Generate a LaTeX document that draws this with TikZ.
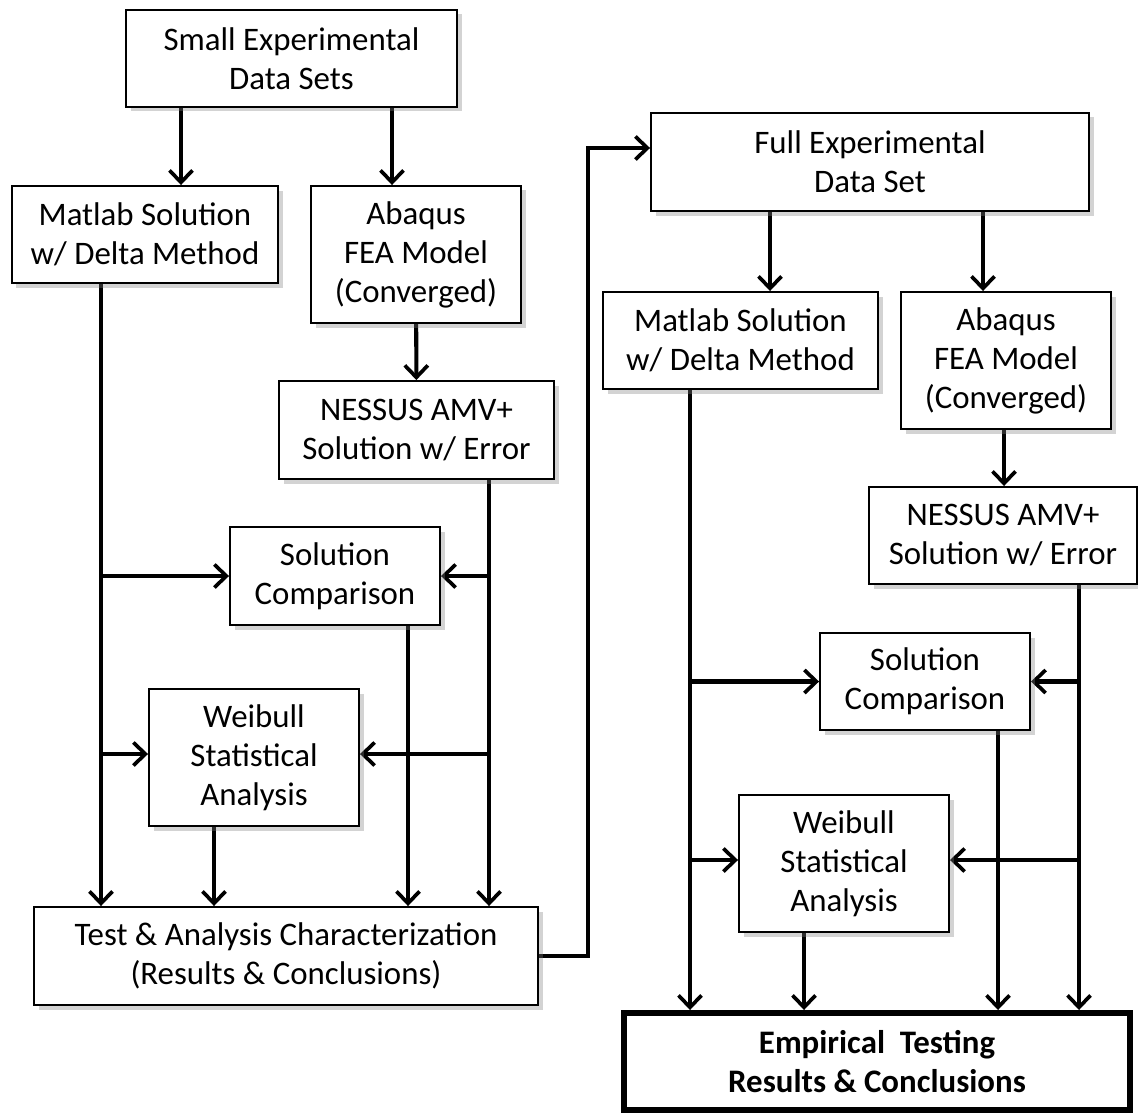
\documentclass[tikz,border=0pt]{standalone}
\usepackage{fontspec}
\setmainfont{Carlito}
\usepackage{tikz}
\usetikzlibrary{arrows.meta}
\usetikzlibrary{shadows}
\pgfdeclarelayer{lineas_layer}
\pgfdeclarelayer{esquema}
\pgfsetlayers{lineas_layer,esquema,main}
\tikzstyle{none}=[inner sep=0pt]
\tikzstyle{caja}=[draw=black,line width=1.1pt,fill=white,font=\fontsize{18.7}{22.2}\selectfont,align=center,inner sep=2pt,drop shadow={shadow xshift=0.09cm,shadow yshift=-0.09cm,opacity=0.35}]
\tikzstyle{final}=[draw=black,line width=3.4pt,fill=white,font=\fontsize{18.7}{22.2}\selectfont\bfseries,align=center,inner sep=2pt]
\tikzstyle{line}=[draw,line width=2.3pt,-{Straight Barb[length=2.4mm,width=4.6mm,line width=2.1pt]}]

\begin{document}
\begin{tikzpicture}
		\useasboundingbox (0,0) rectangle (22.76,-22.26);
		\begin{pgfonlayer}{esquema}
			% lado izquierdo
			\node [style=caja,minimum width=6.62cm,minimum height=1.94cm] (datos_peq) at (5.83,-1.17) {Small Experimental\\Data Sets};
			\node [style=caja,minimum width=5.32cm,minimum height=1.94cm] (matlab_izq) at (2.90,-4.69) {Matlab Solution\\w/ Delta Method};
			\node [style=caja,minimum width=4.20cm,minimum height=2.74cm] (abaqus_izq) at (8.32,-5.09) {Abaqus\\FEA Model\\(Converged)};
			\node [style=caja,minimum width=5.50cm,minimum height=1.96cm] (nessus_izq) at (8.33,-8.60) {NESSUS AMV+\\Solution w/ Error};
			\node [style=caja,minimum width=4.20cm,minimum height=1.96cm] (comparacion_izq) at (6.70,-11.52) {Solution\\Comparison};
			\node [style=caja,minimum width=4.20cm,minimum height=2.74cm] (weibull_izq) at (5.08,-15.15) {Weibull\\Statistical\\Analysis};
			\node [style=caja,minimum width=10.08cm,minimum height=1.96cm] (caracterizacion) at (5.72,-19.12) {Test \& Analysis Characterization\\(Results \& Conclusions)};
			% lado derecho
			\node [style=caja,minimum width=8.76cm,minimum height=1.96cm] (datos_compl) at (17.40,-3.24) {Full Experimental\\Data Set};
			\node [style=caja,minimum width=5.50cm,minimum height=1.94cm] (matlab_der) at (14.81,-6.81) {Matlab Solution\\w/ Delta Method};
			\node [style=caja,minimum width=4.20cm,minimum height=2.74cm] (abaqus_der) at (20.12,-7.21) {Abaqus\\FEA Model\\(Converged)};
			\node [style=caja,minimum width=5.36cm,minimum height=1.94cm] (nessus_der) at (20.06,-10.71) {NESSUS AMV+\\Solution w/ Error};
			\node [style=caja,minimum width=4.20cm,minimum height=1.94cm] (comparacion_der) at (18.50,-13.63) {Solution\\Comparison};
			\node [style=caja,minimum width=4.20cm,minimum height=2.74cm] (weibull_der) at (16.88,-17.27) {Weibull\\Statistical\\Analysis};
			\node [style=final,minimum width=10.12cm,minimum height=1.94cm] (empirico) at (17.54,-21.23) {Empirical\ \ Testing\\Results \& Conclusions};
		\end{pgfonlayer}
		\begin{pgfonlayer}{lineas_layer}
			\coordinate (bus_matlab_izq) at ([xshift=-0.88cm]matlab_izq.south);
			\coordinate (bus_nessus_izq) at ([xshift=1.45cm]nessus_izq.south);
			\coordinate (bus_matlab_der) at ([xshift=-1.01cm]matlab_der.south);
			\coordinate (bus_nessus_der) at ([xshift=1.52cm]nessus_der.south);
			\coordinate (esquina) at ([xshift=0.98cm]caracterizacion.east);
			% izquierda
			\path [style=line] ([xshift=-2.21cm]datos_peq.south) -- ([xshift=-2.21cm]datos_peq.south |- matlab_izq.north);
			\path [style=line] ([xshift=2.01cm]datos_peq.south) -- ([xshift=2.01cm]datos_peq.south |- abaqus_izq.north);
			\path [style=line] (abaqus_izq) -- (nessus_izq);
			\path [style=line] (bus_matlab_izq) -- (bus_matlab_izq |- caracterizacion.north);
			\path [style=line] (bus_nessus_izq) -- (bus_nessus_izq |- caracterizacion.north);
			\path [style=line] (bus_matlab_izq |- comparacion_izq.west) -- (comparacion_izq.west);
			\path [style=line] (bus_nessus_izq |- comparacion_izq.east) -- (comparacion_izq.east);
			\path [style=line] ([yshift=0.07cm]bus_matlab_izq |- weibull_izq.west) -- ([yshift=0.07cm]weibull_izq.west);
			\path [style=line] ([yshift=0.07cm]bus_nessus_izq |- weibull_izq.east) -- ([yshift=0.07cm]weibull_izq.east);
			\path [style=line] ([xshift=1.46cm]comparacion_izq.south) -- ([xshift=1.46cm]comparacion_izq.south |- caracterizacion.north);
			\path [style=line] ([xshift=-0.8cm]weibull_izq.south) -- ([xshift=-0.8cm]weibull_izq.south |- caracterizacion.north);
			\path [style=line] (caracterizacion.east) -- (esquina) |- ([yshift=0.28cm]datos_compl.west);
			% derecha
			\path [style=line] ([xshift=-2.0cm]datos_compl.south) -- ([xshift=-2.0cm]datos_compl.south |- matlab_der.north);
			\path [style=line] ([xshift=2.26cm]datos_compl.south) -- ([xshift=2.26cm]datos_compl.south |- abaqus_der.north);
			\path [style=line] ([xshift=-0.04cm]abaqus_der.south) -- ([xshift=-0.04cm]abaqus_der.south |- nessus_der.north);
			\path [style=line] (bus_matlab_der) -- (bus_matlab_der |- empirico.north);
			\path [style=line] (bus_nessus_der) -- (bus_nessus_der |- empirico.north);
			\path [style=line] (bus_matlab_der |- comparacion_der.west) -- (comparacion_der.west);
			\path [style=line] (bus_nessus_der |- comparacion_der.east) -- (comparacion_der.east);
			\path [style=line] ([yshift=0.07cm]bus_matlab_der |- weibull_der.west) -- ([yshift=0.07cm]weibull_der.west);
			\path [style=line] ([yshift=0.07cm]bus_nessus_der |- weibull_der.east) -- ([yshift=0.07cm]weibull_der.east);
			\path [style=line] ([xshift=1.46cm]comparacion_der.south) -- ([xshift=1.46cm]comparacion_der.south |- empirico.north);
			\path [style=line] ([xshift=-0.8cm]weibull_der.south) -- ([xshift=-0.8cm]weibull_der.south |- empirico.north);
		\end{pgfonlayer}
\end{tikzpicture}
\end{document}
